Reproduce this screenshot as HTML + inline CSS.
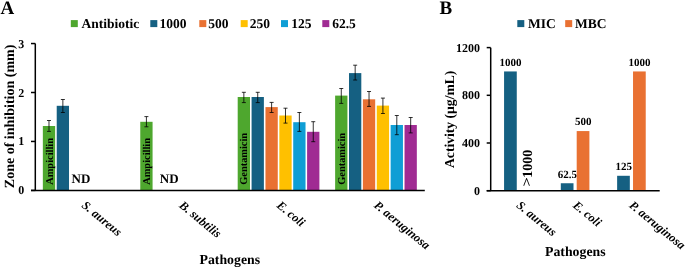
<!DOCTYPE html>
<html><head><meta charset="utf-8"><style>
html,body{margin:0;padding:0;background:#fff;}
body{width:685px;height:267px;overflow:hidden;font-family:"Liberation Serif",serif;}
svg{display:block;filter:blur(0.35px);}
</style></head><body>
<svg width="685" height="267" viewBox="0 0 685 267" text-rendering="geometricPrecision">
<rect width="685" height="267" fill="#fff"/>
<text x="0.50" y="14.20" font-family="'Liberation Serif', serif" font-weight="bold" font-size="19" text-anchor="start">A</text>
<rect x="70.80" y="20.10" width="7.00" height="7.00" fill="#4EA72E"/>
<text x="81.50" y="27.70" font-family="'Liberation Serif', serif" font-weight="bold" font-size="13.5" text-anchor="start">Antibiotic</text>
<rect x="150.30" y="20.10" width="7.00" height="7.00" fill="#156082"/>
<text x="159.60" y="27.70" font-family="'Liberation Serif', serif" font-weight="bold" font-size="13.5" text-anchor="start">1000</text>
<rect x="199.30" y="20.10" width="7.00" height="7.00" fill="#E97132"/>
<text x="208.30" y="27.70" font-family="'Liberation Serif', serif" font-weight="bold" font-size="13.5" text-anchor="start">500</text>
<rect x="240.70" y="20.10" width="7.00" height="7.00" fill="#FFC000"/>
<text x="249.70" y="27.70" font-family="'Liberation Serif', serif" font-weight="bold" font-size="13.5" text-anchor="start">250</text>
<rect x="281.00" y="20.10" width="7.00" height="7.00" fill="#0F9ED5"/>
<text x="291.30" y="27.70" font-family="'Liberation Serif', serif" font-weight="bold" font-size="13.5" text-anchor="start">125</text>
<rect x="322.30" y="20.10" width="7.00" height="7.00" fill="#A02B93"/>
<text x="332.20" y="27.70" font-family="'Liberation Serif', serif" font-weight="bold" font-size="13.5" text-anchor="start">62.5</text>
<rect x="42.84" y="126.00" width="12.30" height="64.40" fill="#4EA72E"/>
<rect x="56.72" y="105.80" width="12.30" height="84.60" fill="#156082"/>
<rect x="140.27" y="121.80" width="12.30" height="68.60" fill="#4EA72E"/>
<rect x="237.70" y="97.00" width="12.30" height="93.40" fill="#4EA72E"/>
<rect x="251.58" y="97.00" width="12.30" height="93.40" fill="#156082"/>
<rect x="265.46" y="107.10" width="12.30" height="83.30" fill="#E97132"/>
<rect x="279.34" y="115.50" width="12.30" height="74.90" fill="#FFC000"/>
<rect x="293.22" y="122.20" width="12.30" height="68.20" fill="#0F9ED5"/>
<rect x="307.10" y="131.80" width="12.30" height="58.60" fill="#A02B93"/>
<rect x="335.13" y="95.60" width="12.30" height="94.80" fill="#4EA72E"/>
<rect x="349.01" y="73.10" width="12.30" height="117.30" fill="#156082"/>
<rect x="362.89" y="99.30" width="12.30" height="91.10" fill="#E97132"/>
<rect x="376.77" y="105.60" width="12.30" height="84.80" fill="#FFC000"/>
<rect x="390.65" y="125.00" width="12.30" height="65.40" fill="#0F9ED5"/>
<rect x="404.53" y="125.00" width="12.30" height="65.40" fill="#A02B93"/>
<line x1="48.99" y1="120.50" x2="48.99" y2="131.40" stroke="#000" stroke-width="0.8"/>
<line x1="46.99" y1="120.50" x2="50.99" y2="120.50" stroke="#000" stroke-width="0.8"/>
<line x1="46.99" y1="131.40" x2="50.99" y2="131.40" stroke="#000" stroke-width="0.8"/>
<line x1="62.87" y1="99.50" x2="62.87" y2="112.50" stroke="#000" stroke-width="0.8"/>
<line x1="60.87" y1="99.50" x2="64.87" y2="99.50" stroke="#000" stroke-width="0.8"/>
<line x1="60.87" y1="112.50" x2="64.87" y2="112.50" stroke="#000" stroke-width="0.8"/>
<line x1="146.42" y1="116.60" x2="146.42" y2="126.80" stroke="#000" stroke-width="0.8"/>
<line x1="144.42" y1="116.60" x2="148.42" y2="116.60" stroke="#000" stroke-width="0.8"/>
<line x1="144.42" y1="126.80" x2="148.42" y2="126.80" stroke="#000" stroke-width="0.8"/>
<line x1="243.85" y1="92.30" x2="243.85" y2="102.60" stroke="#000" stroke-width="0.8"/>
<line x1="241.85" y1="92.30" x2="245.85" y2="92.30" stroke="#000" stroke-width="0.8"/>
<line x1="241.85" y1="102.60" x2="245.85" y2="102.60" stroke="#000" stroke-width="0.8"/>
<line x1="257.73" y1="92.30" x2="257.73" y2="102.60" stroke="#000" stroke-width="0.8"/>
<line x1="255.73" y1="92.30" x2="259.73" y2="92.30" stroke="#000" stroke-width="0.8"/>
<line x1="255.73" y1="102.60" x2="259.73" y2="102.60" stroke="#000" stroke-width="0.8"/>
<line x1="271.61" y1="102.40" x2="271.61" y2="112.50" stroke="#000" stroke-width="0.8"/>
<line x1="269.61" y1="102.40" x2="273.61" y2="102.40" stroke="#000" stroke-width="0.8"/>
<line x1="269.61" y1="112.50" x2="273.61" y2="112.50" stroke="#000" stroke-width="0.8"/>
<line x1="285.49" y1="108.20" x2="285.49" y2="123.10" stroke="#000" stroke-width="0.8"/>
<line x1="283.49" y1="108.20" x2="287.49" y2="108.20" stroke="#000" stroke-width="0.8"/>
<line x1="283.49" y1="123.10" x2="287.49" y2="123.10" stroke="#000" stroke-width="0.8"/>
<line x1="299.37" y1="112.50" x2="299.37" y2="131.40" stroke="#000" stroke-width="0.8"/>
<line x1="297.37" y1="112.50" x2="301.37" y2="112.50" stroke="#000" stroke-width="0.8"/>
<line x1="297.37" y1="131.40" x2="301.37" y2="131.40" stroke="#000" stroke-width="0.8"/>
<line x1="313.25" y1="121.70" x2="313.25" y2="141.70" stroke="#000" stroke-width="0.8"/>
<line x1="311.25" y1="121.70" x2="315.25" y2="121.70" stroke="#000" stroke-width="0.8"/>
<line x1="311.25" y1="141.70" x2="315.25" y2="141.70" stroke="#000" stroke-width="0.8"/>
<line x1="341.28" y1="88.50" x2="341.28" y2="103.40" stroke="#000" stroke-width="0.8"/>
<line x1="339.28" y1="88.50" x2="343.28" y2="88.50" stroke="#000" stroke-width="0.8"/>
<line x1="339.28" y1="103.40" x2="343.28" y2="103.40" stroke="#000" stroke-width="0.8"/>
<line x1="355.16" y1="65.20" x2="355.16" y2="80.00" stroke="#000" stroke-width="0.8"/>
<line x1="353.16" y1="65.20" x2="357.16" y2="65.20" stroke="#000" stroke-width="0.8"/>
<line x1="353.16" y1="80.00" x2="357.16" y2="80.00" stroke="#000" stroke-width="0.8"/>
<line x1="369.04" y1="91.50" x2="369.04" y2="106.40" stroke="#000" stroke-width="0.8"/>
<line x1="367.04" y1="91.50" x2="371.04" y2="91.50" stroke="#000" stroke-width="0.8"/>
<line x1="367.04" y1="106.40" x2="371.04" y2="106.40" stroke="#000" stroke-width="0.8"/>
<line x1="382.92" y1="98.10" x2="382.92" y2="113.50" stroke="#000" stroke-width="0.8"/>
<line x1="380.92" y1="98.10" x2="384.92" y2="98.10" stroke="#000" stroke-width="0.8"/>
<line x1="380.92" y1="113.50" x2="384.92" y2="113.50" stroke="#000" stroke-width="0.8"/>
<line x1="396.80" y1="115.50" x2="396.80" y2="134.70" stroke="#000" stroke-width="0.8"/>
<line x1="394.80" y1="115.50" x2="398.80" y2="115.50" stroke="#000" stroke-width="0.8"/>
<line x1="394.80" y1="134.70" x2="398.80" y2="134.70" stroke="#000" stroke-width="0.8"/>
<line x1="410.68" y1="117.50" x2="410.68" y2="132.90" stroke="#000" stroke-width="0.8"/>
<line x1="408.68" y1="117.50" x2="412.68" y2="117.50" stroke="#000" stroke-width="0.8"/>
<line x1="408.68" y1="132.90" x2="412.68" y2="132.90" stroke="#000" stroke-width="0.8"/>
<text transform="translate(52.59,184.80) rotate(-90)" font-family="'Liberation Serif', serif" font-weight="bold" font-size="10.4" text-anchor="start">Ampicillin</text>
<text transform="translate(150.02,184.80) rotate(-90)" font-family="'Liberation Serif', serif" font-weight="bold" font-size="10.4" text-anchor="start">Ampicillin</text>
<text transform="translate(247.45,184.80) rotate(-90)" font-family="'Liberation Serif', serif" font-weight="bold" font-size="10.4" text-anchor="start">Gentamicin</text>
<text transform="translate(344.88,184.80) rotate(-90)" font-family="'Liberation Serif', serif" font-weight="bold" font-size="10.4" text-anchor="start">Gentamicin</text>
<text x="71.60" y="182.90" font-family="'Liberation Serif', serif" font-weight="bold" font-size="13" text-anchor="start">ND</text>
<text x="159.80" y="182.90" font-family="'Liberation Serif', serif" font-weight="bold" font-size="13" text-anchor="start">ND</text>
<line x1="35.30" y1="43.50" x2="35.30" y2="190.40" stroke="#000" stroke-width="1.5"/>
<line x1="31.00" y1="190.50" x2="424.80" y2="190.50" stroke="#000" stroke-width="1.6"/>
<line x1="31.00" y1="190.40" x2="35.30" y2="190.40" stroke="#000" stroke-width="1.5"/>
<text x="24.20" y="194.40" font-family="'Liberation Serif', serif" font-weight="bold" font-size="12" text-anchor="end">0</text>
<line x1="31.00" y1="141.45" x2="35.30" y2="141.45" stroke="#000" stroke-width="1.5"/>
<text x="24.20" y="145.45" font-family="'Liberation Serif', serif" font-weight="bold" font-size="12" text-anchor="end">1</text>
<line x1="31.00" y1="92.50" x2="35.30" y2="92.50" stroke="#000" stroke-width="1.5"/>
<text x="24.20" y="96.50" font-family="'Liberation Serif', serif" font-weight="bold" font-size="12" text-anchor="end">2</text>
<line x1="31.00" y1="43.55" x2="35.30" y2="43.55" stroke="#000" stroke-width="1.5"/>
<text x="24.20" y="47.55" font-family="'Liberation Serif', serif" font-weight="bold" font-size="12" text-anchor="end">3</text>
<text transform="translate(13.80,116.40) rotate(-90)" font-family="'Liberation Serif', serif" font-weight="bold" font-size="14" text-anchor="middle">Zone of inhibition (mm)</text>
<text transform="translate(81.02,206.50) rotate(39.5)" font-family="'Liberation Serif', serif" font-weight="bold" font-style="italic" font-size="12.2" text-anchor="start">S. aureus</text>
<text transform="translate(178.44,206.50) rotate(39.5)" font-family="'Liberation Serif', serif" font-weight="bold" font-style="italic" font-size="12.2" text-anchor="start">B. subtilis</text>
<text transform="translate(275.88,206.50) rotate(39.5)" font-family="'Liberation Serif', serif" font-weight="bold" font-style="italic" font-size="12.2" text-anchor="start">E. coli</text>
<text transform="translate(373.31,206.50) rotate(39.5)" font-family="'Liberation Serif', serif" font-weight="bold" font-style="italic" font-size="12.2" text-anchor="start">P. aeruginosa</text>
<text x="229.80" y="264.10" font-family="'Liberation Serif', serif" font-weight="bold" font-size="13.8" text-anchor="middle">Pathogens</text>
<text x="439.50" y="14.00" font-family="'Liberation Serif', serif" font-weight="bold" font-size="19" text-anchor="start">B</text>
<rect x="517.30" y="20.10" width="7.00" height="7.00" fill="#156082"/>
<text x="527.90" y="27.70" font-family="'Liberation Serif', serif" font-weight="bold" font-size="13.5" text-anchor="start">MIC</text>
<rect x="565.20" y="20.10" width="7.00" height="7.00" fill="#E97132"/>
<text x="575.10" y="27.70" font-family="'Liberation Serif', serif" font-weight="bold" font-size="13.5" text-anchor="start">MBC</text>
<rect x="504.07" y="71.45" width="12.70" height="119.25" fill="#156082"/>
<text x="510.62" y="65.85" font-family="'Liberation Serif', serif" font-weight="bold" font-size="11" text-anchor="middle">1000</text>
<rect x="560.80" y="183.25" width="12.70" height="7.45" fill="#156082"/>
<text x="567.35" y="177.65" font-family="'Liberation Serif', serif" font-weight="bold" font-size="11" text-anchor="middle">62.5</text>
<rect x="576.70" y="131.07" width="12.70" height="59.62" fill="#E97132"/>
<text x="583.25" y="125.47" font-family="'Liberation Serif', serif" font-weight="bold" font-size="11" text-anchor="middle">500</text>
<rect x="617.13" y="175.79" width="12.70" height="14.91" fill="#156082"/>
<text x="623.68" y="170.19" font-family="'Liberation Serif', serif" font-weight="bold" font-size="11" text-anchor="middle">125</text>
<rect x="633.03" y="71.45" width="12.70" height="119.25" fill="#E97132"/>
<text x="639.58" y="65.85" font-family="'Liberation Serif', serif" font-weight="bold" font-size="11" text-anchor="middle">1000</text>
<text transform="translate(531.60,177.80) rotate(-90)" font-family="'Liberation Serif', serif" font-weight="bold" font-size="14" text-anchor="start">1000</text>
<text transform="translate(531.00,186.40) rotate(-90) scale(1.16,0.95)" font-family="'Liberation Serif', serif" font-weight="bold" font-size="14" text-anchor="start">&gt;</text>
<line x1="490.70" y1="47.70" x2="490.70" y2="190.70" stroke="#000" stroke-width="1.5"/>
<line x1="486.70" y1="190.70" x2="659.70" y2="190.70" stroke="#000" stroke-width="1.5"/>
<line x1="486.70" y1="190.70" x2="490.70" y2="190.70" stroke="#000" stroke-width="1.5"/>
<text x="480.00" y="194.70" font-family="'Liberation Serif', serif" font-weight="bold" font-size="12" text-anchor="end">0</text>
<line x1="486.70" y1="143.00" x2="490.70" y2="143.00" stroke="#000" stroke-width="1.5"/>
<text x="480.00" y="147.00" font-family="'Liberation Serif', serif" font-weight="bold" font-size="12" text-anchor="end">400</text>
<line x1="486.70" y1="95.30" x2="490.70" y2="95.30" stroke="#000" stroke-width="1.5"/>
<text x="480.00" y="99.30" font-family="'Liberation Serif', serif" font-weight="bold" font-size="12" text-anchor="end">800</text>
<line x1="486.70" y1="47.60" x2="490.70" y2="47.60" stroke="#000" stroke-width="1.5"/>
<text x="480.00" y="51.60" font-family="'Liberation Serif', serif" font-weight="bold" font-size="12" text-anchor="end">1200</text>
<text transform="translate(454.00,119.30) rotate(-90)" font-family="'Liberation Serif', serif" font-weight="bold" font-size="13.6" text-anchor="middle">Activity (µg/mL)</text>
<text transform="translate(515.87,206.50) rotate(39.5)" font-family="'Liberation Serif', serif" font-weight="bold" font-style="italic" font-size="12.2" text-anchor="start">S. aureus</text>
<text transform="translate(572.20,206.50) rotate(39.5)" font-family="'Liberation Serif', serif" font-weight="bold" font-style="italic" font-size="12.2" text-anchor="start">E. coli</text>
<text transform="translate(628.53,206.50) rotate(39.5)" font-family="'Liberation Serif', serif" font-weight="bold" font-style="italic" font-size="12.2" text-anchor="start">P. aeruginosa</text>
<text x="575.30" y="256.20" font-family="'Liberation Serif', serif" font-weight="bold" font-size="13.8" text-anchor="middle">Pathogens</text>
</svg>
</body></html>
